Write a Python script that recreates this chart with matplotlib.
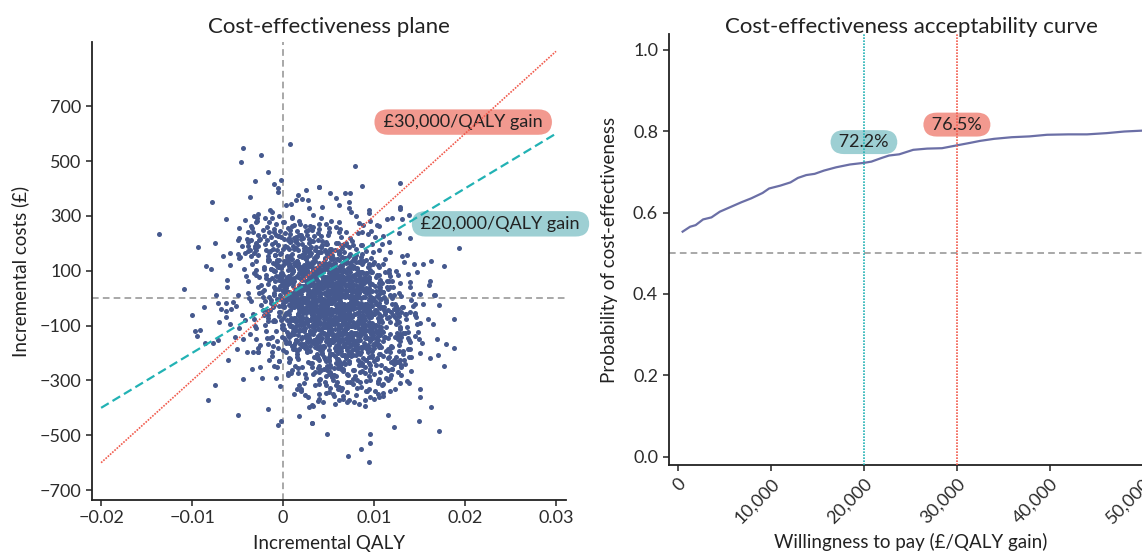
import numpy as np
import matplotlib
matplotlib.use("Agg")
from matplotlib import pyplot as plt

plt.rcParams["font.family"] = ["Lato", "DejaVu Sans"]

# PSA draws: "incremental QALY x 1e-4, incremental cost (GBP)"
PSA_CENTRAL = """
43,333 -14,322 62,341 28,328
94,311 10,294 33,305 75,314 -32,300
53,282 19,270 114,287 0,277 42,292 83,273 -42,284 61,279
24,263 69,243 -18,260 39,251 103,265 8,249 50,256 -3,246 58,258 27,247 88,266
-21,228 38,236 74,219 17,230 127,239 -6,225 49,232 6,220 82,237 34,227 61,242 -13,223 93,234 26,229
43,195 -35,212 69,202 20,217 109,198 14,209 47,204 -50,213 77,193 31,210 58,201 1,215 48,199 -9,206 67,196 33,208 98,197 14,216
38,169 80,180 -27,189 57,175 23,182 118,170 4,187 46,177 87,192 -38,173 65,184 27,179 72,188 -15,168 42,185 106,176 11,190 53,174 0,181 61,171 30,183 91,172
-17,152 42,167 78,148 21,159 131,154 -2,163 53,143 10,160 86,151 38,165 65,149 -9,156 97,146 30,158 46,147 -32,166 72,153 23,161 112,144 17,155 50,164 -47,150 80,157 34,145 61,162 4,152 51,167
91,139 -34,125 69,132 31,120 76,137 -11,127 46,142 110,123 15,134 57,129 4,138 65,118 34,135 95,126 -15,140 44,124 80,131 23,121 133,133 0,122 55,141 12,128 88,136 40,119 67,130 -7,139 99,125 32,132 48,120 -30,137 74,127 25,142
116,101 21,115 54,99 -43,106 84,96 38,108 65,97 8,116 55,103 -2,111 74,94 40,105 105,114 21,100 44,107 86,95 -21,112 63,102 29,117 124,98 10,109 52,104 93,113 -32,93 71,110 33,101 78,115 -9,99 48,106 112,96 17,108 59,97 6,116 67,103 36,111 97,94 -13,105 46,114
84,84 27,79 137,88 4,68 59,85 16,76 92,90 44,74 71,81 -3,71 103,83 36,72 52,91 -26,78 78,86 29,69 118,80 23,89 56,75 -41,82 86,70 40,87 67,77 10,92 57,73 0,84 76,79 42,88 107,68 23,85 46,76 88,90 -19,74 65,81 31,71 126,83 12,72 54,91 95,78 -30,86 73,69 35,80 80,89
-5,66 52,53 116,61 21,44 63,55 10,64 71,50 40,57 101,45 -9,62 50,52 86,67 29,48 139,59 6,54 61,63 18,43 94,60 46,51 73,65 -1,49 105,56 38,46 54,58 -24,47 80,66 31,53 120,61 25,44 58,55 -39,64 88,50 42,57 69,45 12,62 59,52 2,67 78,48 44,59 109,54 25,63 48,43 90,60 -17,51 67,65 33,49 128,56
15,18 57,35 98,26 -27,40 76,24 38,31 83,21 -4,33 53,22 117,41 22,28 64,36 11,19 72,30 41,39 102,25 -8,32 51,20 87,37 30,27 140,42 7,23 62,34 19,29 95,38 47,18 74,35 0,26 106,40 39,24 55,31 -23,21 81,33 32,22 121,41 26,28 59,36 -38,19 89,30 43,39 70,25 13,32 60,20 3,37 79,27 45,42 110,23 26,34 49,29 91,38
-15,5 69,14 35,0 130,7 16,-5 58,12 99,2 -26,17 77,-2 39,9 84,4 -3,13 54,-7 118,10 23,1 65,15 12,-1 73,6 42,-4 103,8 -7,-3 52,16 88,3 31,11 141,-6 8,5 63,14 20,0 96,7 48,-5 75,12 1,2 107,17 40,-2 56,9 -22,4 82,13 33,-7 122,10 27,1 60,15 -37,-1 90,6 44,-4 71,8 14,-3 61,16 4,3 80,11 46,-6 111,5 27,14 50,0
10,-13 65,-23 22,-8 98,-27 50,-16 77,-21 3,-12 109,-32 42,-15 58,-24 -20,-10 84,-26 35,-19 124,-29 29,-17 62,-28 -35,-9 92,-22 46,-14 73,-31 16,-20 63,-11 6,-25 82,-18 48,-30 113,-13 29,-23 52,-8 94,-27 -13,-16 71,-21 37,-12 132,-32 18,-15 60,-24 101,-10 -24,-26 79,-19 41,-29 86,-17 -1,-28 56,-9 120,-22 25,-14 67,-31 14,-20 75,-11 44,-25 105,-18 -5,-30 54,-13 90,-23 33,-8 143,-27
84,-35 50,-51 115,-44 31,-54 54,-42 96,-53 -11,-34 73,-47 39,-39 134,-56 20,-45 62,-36 103,-50 -22,-43 81,-55 43,-38 88,-48 1,-33 58,-52 122,-40 27,-46 69,-37 16,-57 77,-40 46,-49 107,-35 -3,-51 56,-44 92,-54 35,-42 145,-53 12,-34 67,-47 24,-39 100,-56 52,-45 79,-36 5,-50 111,-43 44,-55 60,-38 -18,-48 86,-33 37,-52 126,-40 31,-46 64,-37 -33,-57 94,-40 48,-49 75,-35 18,-51 65,-44
112,-58 45,-77 61,-66 -17,-71 87,-62 38,-82 127,-65 32,-74 65,-60 -32,-76 95,-69 49,-79 76,-67 19,-78 66,-59 9,-72 85,-64 51,-81 116,-70 32,-61 55,-75 97,-68 -10,-80 74,-63 40,-73 135,-58 21,-77 63,-66 104,-71 -21,-62 82,-82 44,-65 89,-74 2,-60 59,-76 123,-69 28,-79 70,-67 17,-78 78,-59 47,-72 108,-64 -2,-81 57,-70 93,-61 36,-75 146,-68 13,-80 68,-63 25,-73
79,-93 48,-105 109,-88 -1,-98 58,-83 94,-102 37,-91 147,-96 14,-87 69,-107 26,-90 102,-99 54,-85 81,-101 7,-94 113,-104 46,-92 62,-103 -16,-84 88,-97 39,-89 128,-106 33,-95 66,-86 -31,-100 96,-93 50,-105 77,-88 20,-98 67,-83 10,-102 86,-91 52,-96 117,-87 33,-107 56,-90 98,-99 -9,-85 75,-101 41,-94 136,-104 22,-92 64,-103 105,-84 -20,-97 83,-89 45,-106
89,-121 40,-112 129,-132 34,-115 67,-124 -30,-110 97,-126 51,-119 78,-129 21,-117 68,-128 11,-109 87,-122 53,-114 118,-131 34,-120 57,-111 99,-125 -8,-118 76,-130 42,-113 137,-123 23,-108 65,-127 106,-116 -19,-121 84,-112 46,-132 91,-115 4,-124 61,-110 125,-126 30,-119 72,-129 19,-117 80,-128 49,-109 110,-122 0,-114 59,-131 95,-120 38,-111 148,-125
43,-144 138,-154 24,-142 66,-153 107,-134 -18,-147 85,-139 47,-156 92,-145 5,-136 62,-150 126,-143 31,-155 73,-138 20,-148 81,-133 50,-152 111,-141 1,-146 60,-137 96,-157 39,-140 149,-149 16,-135 71,-151 28,-144 104,-154 56,-142 83,-153 9,-134 115,-147 48,-139 64,-156 -14,-145 90,-136 41,-150 130,-143 35,-155
69,-164 -28,-181 99,-170 53,-161 80,-175 23,-168 70,-180 13,-163 89,-173 55,-158 120,-177 36,-166 59,-171 101,-162 -6,-182 78,-165 44,-174 139,-160 25,-176 67,-169 108,-179 -17,-167 86,-178 48,-159 93,-172 6,-164 63,-181 127,-170 32,-161 74,-175 21,-168 82,-180
52,-202 113,-191 3,-196 62,-187 98,-207 41,-190 151,-199 18,-185 73,-201 30,-194 106,-204 58,-192 85,-203 11,-184 117,-197 50,-189 66,-206 -12,-195 92,-186 43,-200 132,-193 37,-205 70,-188 -27,-198 100,-183 54,-202 81,-191
15,-215 91,-224 57,-210 122,-226 38,-219 61,-229 103,-217 -4,-228 80,-209 46,-222 141,-214 27,-231 69,-220 110,-211 -15,-225 88,-218 50,-230 95,-213 8,-223 65,-208 129,-227 34,-216
32,-250 108,-243 60,-255 87,-238 13,-248 119,-233 52,-252 68,-241 -10,-246 94,-237 45,-257 134,-240 39,-249 72,-235 -25,-251 102,-244 56,-254 83,-242
51,-278 96,-259 9,-272 66,-264 130,-281 35,-270 77,-261 24,-275 85,-268 54,-280 115,-263 5,-273 64,-258 100,-277
54,-287 70,-307 -8,-290 96,-299 47,-285 136,-301 41,-294 74,-304 -23,-292 104,-303 58,-284
58,-318 123,-331 39,-312 62,-325 104,-309 -3,-322 81,-328 47,-315
70,-341 24,-352 91,-338 55,-349 110,-355
66,-366 38,-374 100,-368
10,262 47,272 -30,279 33,258 40,269 -15,276
87,240 19,231 32,249 -10,243 63,253 8,235 15,246 51,242 -48,255
38,213 -4,225 76,207 22,220 42,227 -26,211 64,223 28,216 5,212 101,222 -8,229 43,208 12,219
60,201 -31,190 53,181 21,199 69,193 8,203 31,185 -20,196 86,192 14,205 42,188 29,200 14,182 65,195 -30,202 36,186 47,198 2,191
87,162 29,172 52,179 -9,158 67,169 16,176 31,165 54,156 -30,174 40,168 12,178 74,160 23,171 47,167 -11,180 61,163 35,175 22,157 99,170 -7,177 48,161 25,173
60,141 -16,137 55,147 37,154 67,133 9,144 36,151 -5,140 83,131 21,149 59,143 27,153 15,135 70,146 -17,142 36,155 62,138 4,150 100,132 24,145 50,152 -7,136 79,148 10,141 35,137 68,147 -35,154
41,108 17,119 87,126 23,115 62,106 -9,124 77,118 33,128 23,110 104,121 8,117 45,130 32,113 74,125 -21,107 53,120 39,127 77,111 6,123 48,116 -6,112 96,122 16,129 57,108 29,119 27,126 64,115 -13,106 50,124 57,118 2,128
105,85 37,96 50,92 8,105 81,88 26,100 33,82 69,95 -30,102 53,86 11,98 91,91 37,87 57,97 -11,104 79,83 43,94 20,101 116,90 7,81 58,99 27,93 72,103 -19,85 65,96 33,92 81,105 20,88 43,100 -8,82 98,95 26,102 54,86 41,98 26,91
83,62 -12,72 54,79 65,58 20,69 102,76 44,65 67,56 6,74 82,68 31,78 46,60 69,71 -15,67 55,80 27,63 89,75 38,57 62,70 4,77 76,61 50,73 37,66 114,62 8,72 63,79 40,58 72,69 -4,76 67,65 49,56 79,74 21,68 48,78 7,60 95,71 33,67 71,80
41,38 29,50 84,32 -3,45 50,52 76,36 18,48 114,41 38,37 64,47 7,54 93,33 24,44 49,51 82,40 -21,31 52,49 28,43 98,53 34,35 73,46 2,42 88,55 44,38 34,50 115,32 19,45 56,52 43,36 85,48 -10,41 64,37 50,47 88,54 17,33 59,44 5,51 107,40 27,31 68,49
2,18 88,28 48,10 35,21 127,17 16,30 57,13 48,25 80,7 -10,20 78,27 47,11 95,23 16,16 57,12 5,22 107,29 31,8 69,19 52,26 35,15 76,6 3,24 56,18 68,28 27,10 110,21 52,17 57,30 14,13 89,25 34,7 45,20 78,27 -10,11 58,23 20,16 104,12 40,22 65,29 11,8 84,19
98,1 25,-10 53,-19 75,-1 -13,-7 56,3 28,-15 108,-4 39,-8 64,5 10,-12 86,0 50,-18 41,-5 120,2 24,-14 57,-2 47,-9 78,-13 -2,-3 68,4 50,-17 98,-6 22,1 50,-10 13,-19 105,-1 33,-7 75,3 45,-15 43,-4 76,-8 2,5 54,-12 76,0 17,-18 113,-5 55,2 63,-14 7,-2 97,-9 32,-13
17,-28 72,-21 46,-42 88,-31 -10,-24 77,-35 48,-44 96,-26 21,-32 59,-22 18,-40 105,-29 33,-33 75,-20 48,-37 36,-25 91,-43 1,-30 64,-23 68,-39 26,-27 111,-34 53,-38 62,-28 16,-21 102,-42 32,-31 47,-24 84,-35 -14,-44 59,-26 35,-32 102,-22 48,-40 65,-29 10,-33 85,-20 59,-37 32,-25 124,-43 28,-30 64,-23
19,-64 119,-52 51,-59 64,-63 22,-53 95,-46 40,-67 47,-56 83,-49 -16,-60 67,-69 25,-51 105,-57 51,-47 71,-65 3,-54 93,-58 57,-45 34,-62 130,-50 21,-68 72,-55 41,-48 86,-64 -5,-52 79,-59 47,-63 95,-53 34,-46 57,-67 6,-56 112,-49 40,-60 68,-69 55,-51 40,-57 91,-47 -4,-65 62,-54 73,-58 28,-45
24,-87 62,-75 21,-93 108,-80 36,-73 78,-89 51,-77 39,-84 94,-88 4,-78 67,-71 71,-92 29,-81 114,-74 56,-85 65,-94 19,-76 105,-82 35,-72 50,-90 87,-79 -11,-83 62,-70 38,-87 105,-75 51,-93 68,-80 13,-73 88,-89 62,-77 35,-84 127,-88 31,-78 67,-71 44,-92 90,-81 0,-74 74,-85 60,-94
106,-101 52,-107 69,-97 14,-115 89,-104 63,-108 36,-95 128,-112 32,-100 68,-118 45,-105 91,-98 1,-114 75,-102 61,-109 96,-113 35,-103 55,-96 17,-117 108,-106 46,-99 70,-110 53,-119 51,-101 87,-107 0,-97 67,-115 79,-104 24,-108 124,-95 53,-112 76,-100 12,-118 101,-105 35,-98 60,-114 79,-102
8,-134 71,-138 78,-128 23,-121 123,-142 55,-131 68,-124 26,-135 99,-144 44,-126 51,-132 87,-122 -12,-140 71,-129 29,-133 109,-120 55,-137 75,-125 7,-143 97,-130 61,-123 38,-139 134,-127 25,-134 76,-138 45,-128 90,-121 -1,-142 83,-131 51,-124 99,-135 38,-144 61,-126 10,-132
93,-147 3,-165 77,-154 63,-158 98,-145 37,-162 57,-150 19,-168 110,-155 48,-148 72,-164 55,-152 53,-159 89,-163 2,-153 69,-146 81,-167 26,-156 126,-149 55,-160 78,-169 14,-151 103,-157 37,-147 62,-165 81,-154 -7,-158 76,-145 33,-162 103,-150
64,-193 87,-180 -11,-173 76,-189 35,-177 115,-184 43,-188 81,-178 12,-171 98,-192 58,-181 45,-174 137,-185 26,-194 67,-176 58,-182 90,-172 0,-190 88,-179 57,-183 105,-170 26,-187 67,-175 15,-193 117,-180 41,-173
116,-214 54,-202 77,-209 50,-213 52,-203 93,-196 6,-217 73,-206 82,-199 37,-210 115,-219 60,-201 72,-207 26,-197 98,-215 43,-204 68,-208 86,-195 -12,-212 75,-200 37,-218 107,-205
103,-223 64,-239 51,-227 125,-234 32,-238 72,-228 59,-221 87,-242 7,-231 91,-224 58,-235 96,-244 39,-226 67,-232 16,-222 122,-240 47,-229 85,-233
52,-245 78,-262 21,-250 107,-268 38,-255 63,-248 96,-264 -7,-252 66,-259 42,-263 112,-253 48,-246 87,-267 16,-256
90,-274 54,-285 105,-294 33,-276 71,-282 16,-272 118,-290 56,-279 79,-283 52,-270
77,-312 39,-300 109,-318 59,-305 81,-298 23,-310 91,-302
52,-327 92,-338 15,-330 64,-336 86,-325
-7,119 44,127 16,115 88,132 31,124 -6,121 70,130 24,117 85,134 48,123 6,128 63,119 69,127 -5,115 26,132 55,124 13,121 86,130 45,117 1,134 65,123 50,128
-1,90 49,107 11,99 87,96 35,105 -2,92 74,109 25,98 96,103 37,94 11,102 57,90 81,107 -10,99 32,96 61,105 18,92 81,109 44,98 5,103 69,94 54,102
-2,74 53,71 15,80 91,67 36,84 9,73 63,78 30,69 90,77 49,65 6,82 63,74 87,71 -5,80 27,67 60,84 22,73 85,78 48,69 6,77 80,65 43,82
2,55 54,42 26,59 80,48 41,53 3,44 75,52 25,40 96,57 55,49 11,46 58,55 86,42 -1,59 31,48 64,53 23,44 96,52 37,40 11,57 74,49 55,46
-9,34 59,23 20,28 92,19 36,27 9,15 81,32 30,24 91,21 54,30 15,17 62,34 90,23 0,28 42,19 53,27 28,15 90,32 49,24 6,21 80,30 61,17
3,3 54,-6 26,2 98,-10 41,7 4,-1 80,-4 34,5 95,-8 58,9 16,-2 73,3 79,-6 5,2 36,-10 65,7 23,-1 96,-4 55,5 11,-8 75,9 60,-2
9,-23 59,-35 21,-18 97,-26 45,-29 8,-20 84,-33 35,-16 106,-27 47,-22 21,-31 67,-23 91,-35 0,-18 42,-26 71,-29 28,-20 91,-33 54,-16 15,-27 79,-22 64,-31
8,-43 63,-51 25,-54 101,-45 46,-58 19,-41 73,-52 40,-47 100,-56 59,-48 16,-60 73,-43 97,-51 5,-54 37,-45 70,-58 32,-41 95,-52 58,-47 16,-56 90,-48 53,-60
11,-79 63,-70 35,-83 89,-66 50,-77 12,-72 84,-81 34,-73 105,-85 64,-68 20,-76 67,-79 95,-70 8,-83 40,-66 73,-77 32,-72 105,-81 46,-73 20,-85 83,-68 64,-76
-1,-108 67,-91 28,-102 100,-97 44,-106 17,-98 89,-110 38,-93 99,-101 62,-104 23,-95 70,-108 98,-91 8,-102 50,-97 61,-106 36,-98 98,-110 57,-93 14,-101 88,-104 69,-95
10,-127 61,-122 33,-131 105,-123 48,-135 11,-118 87,-126 41,-129 102,-120 65,-133 23,-116 80,-127 86,-122 12,-131 43,-123 72,-135 30,-118 103,-126 62,-129 18,-120 82,-133 67,-116
15,-156 65,-148 27,-160 103,-143 51,-151 14,-154 90,-145 41,-158 112,-141 53,-152 27,-147 73,-156 97,-148 6,-160 48,-143 77,-151 34,-154 97,-145 60,-158 21,-141 85,-152 70,-147
13,-185 68,-168 30,-176 106,-179 51,-170 24,-183 78,-166 45,-177 105,-172 64,-181 21,-173 78,-185 102,-168 10,-176 42,-179 75,-170 37,-183 100,-166 63,-177 21,-172 95,-181 58,-173
-35,262 -22,248 -8,271 5,255 18,283 -28,229 -15,240 2,236 12,266 25,244 -38,205 -25,214 -12,199 -2,222
9,209 20,231 -31,183 -19,176 -6,192 6,180 16,198 28,170 -42,165 -27,158 -14,171 -3,161 8,154 22,159
-20,291 -5,300 10,295 -33,240 -45,190 1,278 30,262 -10,253 14,224 -18,212 -36,175 24,186
15,-205 45,-215 75,-212 100,-228 30,-238 60,-245 90,-252 120,-258 10,-262 40,-270 70,-276 95,-285
25,-290 55,-298 85,-305 110,-312 35,-318 65,-326 95,-332 20,-338 50,-344 80,-352 105,-360 40,-366
72,-372 57,-386 90,-392 28,-398 115,-300 130,-250 -5,-230 5,-280 18,-315 82,-225 60,-222 48,-262
77,-296 101,-340 66,-357 46,-305
"""

PSA_OUTLYING = """
8,562 -44,547 -24,523 -46,495 -17,459 79,483 -31,426 -2,432 -10,416 -6,400 -6,388 129,419 40,404 87,409
52,383 68,383 74,383 58,364 73,349 73,327 94,322 128,332 128,324 138,303 3,340 9,343 14,359 21,361
27,359 16,376 25,395 39,404 -78,349 -36,369 -12,313 -12,293 -28,307 -29,294 -29,281 120,294 131,288
96,282 97,246 80,298 106,262 110,228 116,205 140,218 193,184 177,116 163,136 154,124 144,124 147,96
160,47 167,12 162,63 136,157 -136,235 -63,288 -93,187 -75,202 -66,152 -58,164 -85,116 -79,108 -58,122
-109,35 -74,12 -62,67 -62,39 -50,11 -48,219 -40,215 -39,242 -34,255 -39,189 -50,161 -48,145
-100,-61 -87,-34 -97,-118 -91,-116 -95,-138 -86,-162 -77,-162 -72,-152 -71,-19 -63,-19 -68,-40 -63,-47
-63,-67 -70,-86 -58,-95 -61,-226 -75,-316 -83,-371 -44,-296 -50,-425 -34,-257 -17,-405 -6,-461 -2,-449
18,-428 32,-456 32,-391 -51,-186 -40,-197 -33,-197 -27,-197 188,-77 188,-182 179,-168 169,-150 166,11
171,-26 165,-94 159,-77 153,-164 170,-207 177,-246 161,-219 150,-333 150,-362 163,-397 149,-449 171,-484
122,-471 96,-497 96,-528 86,-549 71,-574 95,-597 48,-495 32,-455 44,-428 115,-425 138,-310 141,-265
62,-370 70,-378 78,-380 84,-385 90,-372 96,-360 104,-350 110,-345 118,-340 56,-355 60,-330 47,-345
40,-350 27,-360 20,-330 12,-350 33,-392 44,-378
138,-216 133,-225 140,-186 145,-137 150,-92 145,-62 140,-50 145,-21 154,-20 150,15 143,15 128,-308
126,-271 120,-259 119,-282 113,-290 124,-216 127,-232 130,-244 132,-202 127,-193 119,-174 128,-158
132,-127 137,-145 135,-77 125,-79 121,-63 125,-55 123,-22 131,-34
-55,-15 -52,-28 -57,-38 -45,-60 -42,-80 -48,-110 -36,-130 -30,-150 -25,-170 -44,-150 -53,-140
"""

THRESHOLDS = [20000, 30000]
THRESHOLD_LABELS = ["£20,000/QALY gain", "£30,000/QALY gain"]
PLANE_QALY_RANGE = [-0.02, 0.03]

# cost-effectiveness acceptability curve
WTP = [500, 1300, 1900, 2700, 3600, 4500, 5700, 6800, 7900, 9100, 9800, 11000,
       12100, 12900, 13800, 14700, 15700, 17000, 18500, 20000, 20800, 21900,
       22700, 23800, 25300, 26800, 28400, 30000, 31400, 32500, 34000, 35900,
       37800, 39700, 42000, 44000, 46100, 48000, 49800, 51500]
PROB_CE = [0.553, 0.565, 0.569, 0.583, 0.588, 0.602, 0.614, 0.625, 0.635, 0.648,
           0.659, 0.666, 0.674, 0.685, 0.692, 0.695, 0.703, 0.711, 0.718, 0.722,
           0.725, 0.734, 0.740, 0.743, 0.754, 0.757, 0.758, 0.765, 0.771, 0.776,
           0.781, 0.785, 0.787, 0.791, 0.792, 0.792, 0.795, 0.799, 0.801, 0.803]
PROB_AT_THRESHOLD = [0.722, 0.765]
PROB_LABELS = ["72.2%", "76.5%"]

QALY_TICKS = [-0.02, -0.01, 0, 0.01, 0.02, 0.03]
QALY_TICK_LABELS = ["\u22120.02", "\u22120.01", "0", "0.01", "0.02", "0.03"]
COST_TICKS = [-700, -500, -300, -100, 100, 300, 500, 700]
COST_TICK_LABELS = ["\u2212700", "\u2212500", "\u2212300", "\u2212100", "100", "300", "500", "700"]
WTP_TICKS = [0, 10000, 20000, 30000, 40000, 50000]
WTP_TICK_LABELS = ["0", "10,000", "20,000", "30,000", "40,000", "50,000"]
PROB_TICKS = [0, 0.2, 0.4, 0.6, 0.8, 1.0]
PROB_TICK_LABELS = ["0.0", "0.2", "0.4", "0.6", "0.8", "1.0"]

DOT = "#46598e"
CURVE = "#6b6fa6"
TEAL = "#22b2b4"
RED = "#f15a4c"
TEAL_FILL = "#9dcfd3"
RED_FILL = "#f2998f"
GREY = "#9a9a9a"
INK = "#222222"
W, H = 1142, 553


def parse_draws(text):
    pairs = [p.split(",") for p in text.split()]
    q = np.array([int(a) for a, _ in pairs]) / 1e4
    c = np.array([int(b) for _, b in pairs], dtype=float)
    return q, c


def style_axes(ax):
    for side in ("top", "right"):
        ax.spines[side].set_visible(False)
    for side in ("left", "bottom"):
        ax.spines[side].set_linewidth(1.3)
        ax.spines[side].set_color(INK)
    ax.tick_params(length=4.5, width=1.1, color=INK, labelcolor="#2b2b2b",
                   labelsize=13, pad=3)


def px_box(left, top, right, bottom):
    return [left / W, 1 - bottom / H, (right - left) / W, (bottom - top) / H]


fig = plt.figure(figsize=(W / 100, H / 100), dpi=100)

# ---- cost-effectiveness plane
ax1 = fig.add_axes(px_box(92, 42, 566, 500))
style_axes(ax1)
q_central, c_central = parse_draws(PSA_CENTRAL)
q_out, c_out = parse_draws(PSA_OUTLYING)
inc_qaly = np.concatenate([q_central, q_out])
inc_cost = np.concatenate([c_central, c_out])

ax1.axvline(0, color=GREY, ls=(0, (4, 2.5)), lw=1.2, zorder=1)
ax1.axhline(0, color=GREY, ls=(0, (4, 2.5)), lw=1.2, zorder=1)
ax1.scatter(inc_qaly, inc_cost, s=13, color=DOT, linewidths=0, zorder=2)

qr = np.array(PLANE_QALY_RANGE)
ax1.plot(qr, qr * THRESHOLDS[0], color=TEAL, ls=(0, (4, 2)), lw=1.6, zorder=4)
ax1.plot(qr, qr * THRESHOLDS[1], color=RED, ls=(0, (1, 0.8)), lw=1.2, zorder=4)

label_kw = dict(ha="center", va="center", fontsize=13, color=INK, zorder=3)
ax1.text(0.0239, 271, " " + THRESHOLD_LABELS[0] + " ",
         bbox=dict(boxstyle="round,pad=0.26,rounding_size=0.75", fc=TEAL_FILL, ec="none"),
         **label_kw)
ax1.text(0.0198, 642, " " + THRESHOLD_LABELS[1] + " ",
         bbox=dict(boxstyle="round,pad=0.26,rounding_size=0.75", fc=RED_FILL, ec="none"),
         **label_kw)

ax1.set_xlim(-0.021, 0.0311)
ax1.set_ylim(-736, 934)
ax1.set_xticks(QALY_TICKS)
ax1.set_xticklabels(QALY_TICK_LABELS)
ax1.set_yticks(COST_TICKS)
ax1.set_yticklabels(COST_TICK_LABELS)

# ---- acceptability curve
ax2 = fig.add_axes(px_box(668.5, 34, 1154, 465))
style_axes(ax2)
ax2.axhline(0.5, color=GREY, ls=(0, (4, 2.5)), lw=1.2, zorder=1)
ax2.axvline(THRESHOLDS[0], color=TEAL, ls=(0, (1, 0.8)), lw=1.2, zorder=4)
ax2.axvline(THRESHOLDS[1], color=RED, ls=(0, (1, 0.8)), lw=1.2, zorder=4)
ax2.plot(WTP, PROB_CE, color=CURVE, lw=1.6, zorder=2)

for wtp, p, lab, fill in zip(THRESHOLDS, PROB_AT_THRESHOLD, PROB_LABELS, [TEAL_FILL, RED_FILL]):
    ax2.text(wtp, p + 0.051, " " + lab + " ",
             bbox=dict(boxstyle="round,pad=0.22,rounding_size=0.75", fc=fill, ec="none"),
             **label_kw)

ax2.set_xlim(-1020, 51200)
ax2.set_ylim(-0.0204, 1.0386)
ax2.set_xticks(WTP_TICKS)
ax2.set_xticklabels(WTP_TICK_LABELS, rotation=45, ha="right", va="top",
                    rotation_mode="anchor")
ax2.set_yticks(PROB_TICKS)
ax2.set_yticklabels(PROB_TICK_LABELS)

# titles and axis labels
fig.text(329 / W, 1 - 33 / H, "Cost-effectiveness plane", ha="center", va="baseline",
         fontsize=16, color=INK)
fig.text(911 / W, 1 - 33 / H, "Cost-effectiveness acceptability curve", ha="center",
         va="baseline", fontsize=16, color=INK)
fig.text(329 / W, 1 - 544 / H, "Incremental QALY", ha="center", va="center",
         fontsize=13.5, color=INK)
fig.text(911 / W, 1 - 542 / H, "Willingness to pay (£/QALY gain)", ha="center",
         va="center", fontsize=13.5, color=INK)
fig.text(20 / W, 1 - 271 / H, "Incremental costs (£)", ha="center", va="center",
         rotation=90, fontsize=13.5, color=INK)
fig.text(610 / W, 1 - 250 / H, "Probability of cost-effectiveness", ha="center",
         va="center", rotation=90, fontsize=13.5, color=INK)

fig.savefig("out.png", dpi=100)
